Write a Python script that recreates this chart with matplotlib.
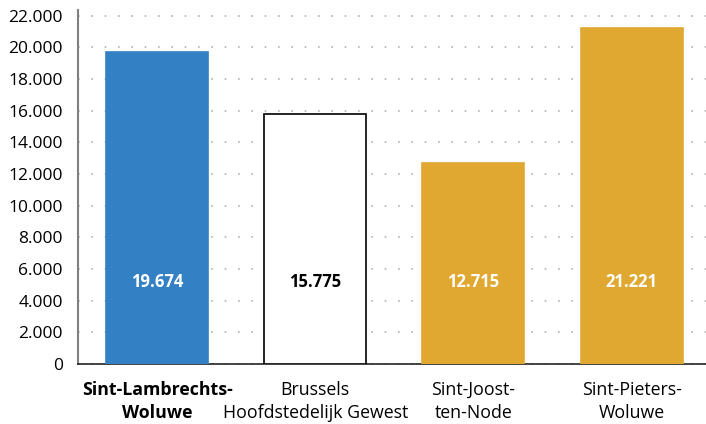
import matplotlib
matplotlib.use("Agg")
import matplotlib.pyplot as plt
from matplotlib.ticker import FuncFormatter

# data
gemeenten = ["Sint-Lambrechts-\nWoluwe", "Brussels\nHoofdstedelijk Gewest",
             "Sint-Joost-\nten-Node", "Sint-Pieters-\nWoluwe"]
waarden = [19674, 15775, 12715, 21221]
labels = ["19.674", "15.775", "12.715", "21.221"]
kleuren = ["#3380c4", "white", "#e0a830", "#e0a830"]
randen = ["#3380c4", "black", "#e0a830", "#e0a830"]
tekstkleur = ["white", "black", "white", "white"]

plt.rcParams['font.family'] = ['Open Sans', 'DejaVu Sans']

fig = plt.figure(figsize=(7.06, 4.24), dpi=100)
ax = fig.add_axes([78 / 706, 60 / 424, 1 - 78 / 706, 354 / 424])

x = range(len(waarden))
ax.bar(x, waarden, width=0.645, color=kleuren, edgecolor=randen, linewidth=1.2, zorder=3)

for i, v in enumerate(waarden):
    ax.text(i, 5200, labels[i], ha='center', va='center', color=tekstkleur[i],
            fontsize=12, fontweight='bold', zorder=4)

ax.set_xlim(-0.5, 3.47)
ax.set_ylim(0, 22350)
ax.set_yticks(range(0, 22001, 2000))
ax.yaxis.set_major_formatter(FuncFormatter(lambda v, p: f"{int(v):,}".replace(",", ".")))
ax.set_xticks(list(x))
ax.set_xticklabels(gemeenten, fontsize=12.8, linespacing=1.35)
ax.get_xticklabels()[0].set_fontweight('bold')
ax.tick_params(axis='y', labelsize=12.5, length=0, pad=11)
ax.tick_params(axis='x', length=0, pad=12)

ax.grid(axis='y', color='#b0b0b0', linestyle=(0, (1, 7)), linewidth=1.2, zorder=0)
for s in ['top', 'right']:
    ax.spines[s].set_visible(False)
ax.spines['left'].set_color('#808080')
ax.spines['left'].set_linewidth(1.5)
ax.spines['bottom'].set_color('#222222')
ax.spines['bottom'].set_linewidth(1.2)

fig.savefig("out.png", dpi=100)
